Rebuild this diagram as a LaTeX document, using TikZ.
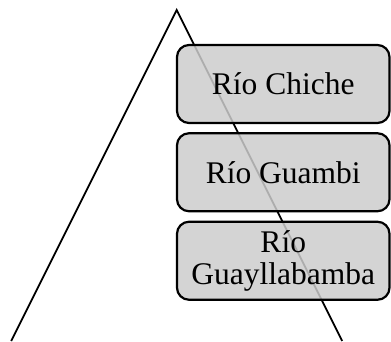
\documentclass[tikz,border=0pt]{standalone}
\usepackage{fontspec}
\setmainfont{Liberation Serif}
\definecolor{boxfill}{gray}{0.8}
\begin{document}
\begin{tikzpicture}[x=1pt,y=1pt,
  side/.style={line width=1.8pt},
  rbox/.style={draw=black, line width=2.2pt, rounded corners=12pt, fill=boxfill, fill opacity=0.85, text opacity=1,
    minimum width=212.5pt, minimum height=78pt, inner sep=0pt, align=center,
    font=\fontsize{31.5}{32}\selectfont}]
\useasboundingbox (0,0) rectangle (391,341);
\coordinate (apex) at (176.7,331);
\coordinate (bl) at (11.2,0);
\coordinate (br) at (342.2,0);
\draw[side] (bl) -- (apex) -- (br);
\node[rbox] (b1) at (283.25,257) {Río Chiche};
\node[rbox] (b2) at (283.25,168.75) {Río Guambi};
\node[rbox] (b3) at (283.25,80.25) {Río\\Guayllabamba};
\end{tikzpicture}
\end{document}
